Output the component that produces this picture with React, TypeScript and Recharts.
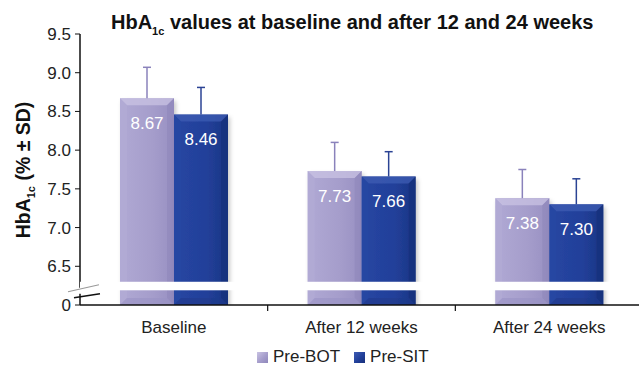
import React from 'react'
import {
  BarChart, Bar, XAxis, YAxis, ErrorBar, LabelList, ReferenceArea,
} from 'recharts'

const categories = ['Baseline', 'After 12 weeks', 'After 24 weeks']
const preBot = [8.67, 7.73, 7.38]
const preSit = [8.46, 7.66, 7.3]
const preBotSd = [0.4, 0.37, 0.37]
const preSitSd = [0.35, 0.32, 0.33]
const yTicks = [6.0, 6.5, 7.0, 7.5, 8.0, 8.5, 9.0, 9.5]
const yTickLabels = ['0', '6.5', '7.0', '7.5', '8.0', '8.5', '9.0', '9.5']
// the axis is broken between 0 and 6.5, the lowest tick stands for 0
const breakFrom = 6.19
const breakTo = 6.3

const data = categories.map((name, i) => ({
  name,
  bot: preBot[i],
  sit: preSit[i],
  botErr: [0, preBotSd[i]],
  sitErr: [0, preSitSd[i]],
}))

const FONT = '"Liberation Sans", Arial, sans-serif'

const makeBar = (kind: 'bot' | 'sit') => (props: any) => {
  const { x, y, width: w, height: h } = props
  if (!w || !h) return <g />
  const b = 7
  const pal = kind === 'bot'
    ? { top: '#c9c3e3', left: '#b2abd6', right: '#8f87bb', bottom: '#9a92c4' }
    : { top: '#3e5cb3', left: '#2a48a4', right: '#18307a', bottom: '#1f3a8c' }
  return (
    <g filter="url(#barShadow)">
      <rect x={x} y={y} width={w} height={h} fill={`url(#grad-${kind})`} />
      <polygon points={`${x},${y} ${x + w},${y} ${x + w - b},${y + b} ${x + b},${y + b}`} fill={pal.top} opacity={0.75} />
      <polygon points={`${x},${y} ${x + b},${y + b} ${x + b},${y + h - b} ${x},${y + h}`} fill={pal.left} opacity={0.6} />
      <polygon points={`${x + w},${y} ${x + w - b},${y + b} ${x + w - b},${y + h - b} ${x + w},${y + h}`} fill={pal.right} opacity={0.6} />
      <polygon points={`${x},${y + h} ${x + b},${y + h - b} ${x + w - b},${y + h - b} ${x + w},${y + h}`} fill={pal.bottom} opacity={0.6} />
    </g>
  )
}

const valueLabel = (props: any) => {
  const { x, y, width, value } = props
  return (
    <text x={x + width / 2} y={y + 25} fill="#fff" fontSize={17} fontFamily={FONT}
      textAnchor="middle" dominantBaseline="central">
      {Number(value).toFixed(2)}
    </text>
  )
}

const XTick = (props: any) => {
  const { x, y, payload } = props
  const half = payload?.offset ?? 93
  return (
    <g>
      <line x1={x + half} y1={y} x2={x + half} y2={y + 6} stroke="#111" strokeWidth={1.2} />
      <text x={x} y={y + 28} textAnchor="middle" fontSize={17} fill="#222" fontFamily={FONT}>
        {payload.value}
      </text>
    </g>
  )
}

const AxisBreak = (props: any) => {
  const { x, y, width, height } = props
  return (
    <g>
      <rect x={x} y={y} width={width} height={height} fill="#fff" />
      <rect x={x - 3} y={y + 6} width={6} height={6} fill="#fff" />
      <line x1={x - 12} y1={y + 10} x2={x + 19} y2={y + 3} stroke="#999" strokeWidth={1.2} />
      <line x1={x - 6} y1={y + 16} x2={x + 20} y2={y + 12} stroke="#111" strokeWidth={1.4} />
    </g>
  )
}

const YLabel = () => (
  <text transform="rotate(-90, 30, 170)" x={30} y={170} textAnchor="middle"
    fontSize={19.5} fontWeight="bold" fill="#111" fontFamily={FONT}>
    HbA<tspan fontSize={11} dy={5}>1c</tspan><tspan dy={-5}> (% ± SD)</tspan>
  </text>
)

export default function App() {
  return (
    <div style={{ position: 'absolute', left: 0, top: 0, width: 639, height: 368, overflow: 'hidden', background: '#fff', fontFamily: FONT }}>
      {/* only the upper whisker of each error bar is drawn */}
      <style>{'.recharts-errorBar line:nth-of-type(3){display:none}'}</style>
      <svg width={0} height={0} style={{ position: 'absolute' }}>
        <defs>
          <linearGradient id="grad-bot" x1="0" y1="0" x2="1" y2="0">
            <stop offset="0%" stopColor="#b0a9d4" />
            <stop offset="60%" stopColor="#a59dcb" />
            <stop offset="100%" stopColor="#9890c2" />
          </linearGradient>
          <linearGradient id="grad-sit" x1="0" y1="0" x2="1" y2="0">
            <stop offset="0%" stopColor="#2746a2" />
            <stop offset="60%" stopColor="#22409a" />
            <stop offset="100%" stopColor="#1b3584" />
          </linearGradient>
          <filter id="barShadow" x="-20%" y="-10%" width="140%" height="130%">
            <feDropShadow dx={2} dy={3} stdDeviation={2} floodColor="#000" floodOpacity={0.22} />
          </filter>
        </defs>
      </svg>

      <svg width={639} height={42} style={{ position: 'absolute', left: 0, top: 0 }}>
        <text x={111} y={29} fontSize={20} fontWeight="bold" fill="#111" fontFamily={FONT}>
          HbA<tspan fontSize={11} dy={6}>1c</tspan><tspan dy={-6}> values at baseline and after 12 and 24 weeks</tspan>
        </text>
      </svg>

      <BarChart width={643} height={368} data={data} barSize={54} barGap={0}
        margin={{ top: 34, right: 0, left: 0, bottom: 33 }}>
        <XAxis dataKey="name" height={30} tickLine={false} tickSize={0} tickMargin={0}
          axisLine={{ stroke: '#111', strokeWidth: 1.5 }} tick={<XTick />} interval={0} />
        <YAxis type="number" domain={[6, 9.5]} ticks={yTicks} width={80} interval={0}
          tickFormatter={(v: number) => yTickLabels[yTicks.indexOf(v)] ?? String(v)}
          tick={{ fontSize: 17, fill: '#222', fontFamily: FONT }} tickSize={5} tickMargin={4}
          axisLine={{ stroke: '#111', strokeWidth: 1.5 }} tickLine={{ stroke: '#111' }}
          label={<YLabel />} allowDataOverflow />
        <Bar dataKey="bot" name="Pre-BOT" shape={makeBar('bot')} isAnimationActive={false}>
          <ErrorBar dataKey="botErr" direction="y" width={4} stroke="#8a82bb" strokeWidth={1.5} />
          <LabelList dataKey="bot" content={valueLabel} />
        </Bar>
        <Bar dataKey="sit" name="Pre-SIT" shape={makeBar('sit')} isAnimationActive={false}>
          <ErrorBar dataKey="sitErr" direction="y" width={4} stroke="#2b4394" strokeWidth={1.5} />
          <LabelList dataKey="sit" content={valueLabel} />
        </Bar>
        <ReferenceArea y1={breakFrom} y2={breakTo} shape={<AxisBreak />} zIndex={2000} />
      </BarChart>

      <div style={{ position: 'absolute', left: 257, top: 347, display: 'flex', alignItems: 'center', fontSize: 17, color: '#222' }}>
        <span style={{ width: 11, height: 11, background: 'linear-gradient(135deg, #c9c3e3 0%, #a59dcb 55%, #8f87bb 100%)', marginRight: 5 }} />
        <span style={{ marginRight: 14 }}>Pre-BOT</span>
        <span style={{ width: 11, height: 11, background: 'linear-gradient(135deg, #3e5cb3 0%, #22409a 55%, #18307a 100%)', marginRight: 5 }} />
        <span>Pre-SIT</span>
      </div>
    </div>
  )
}
